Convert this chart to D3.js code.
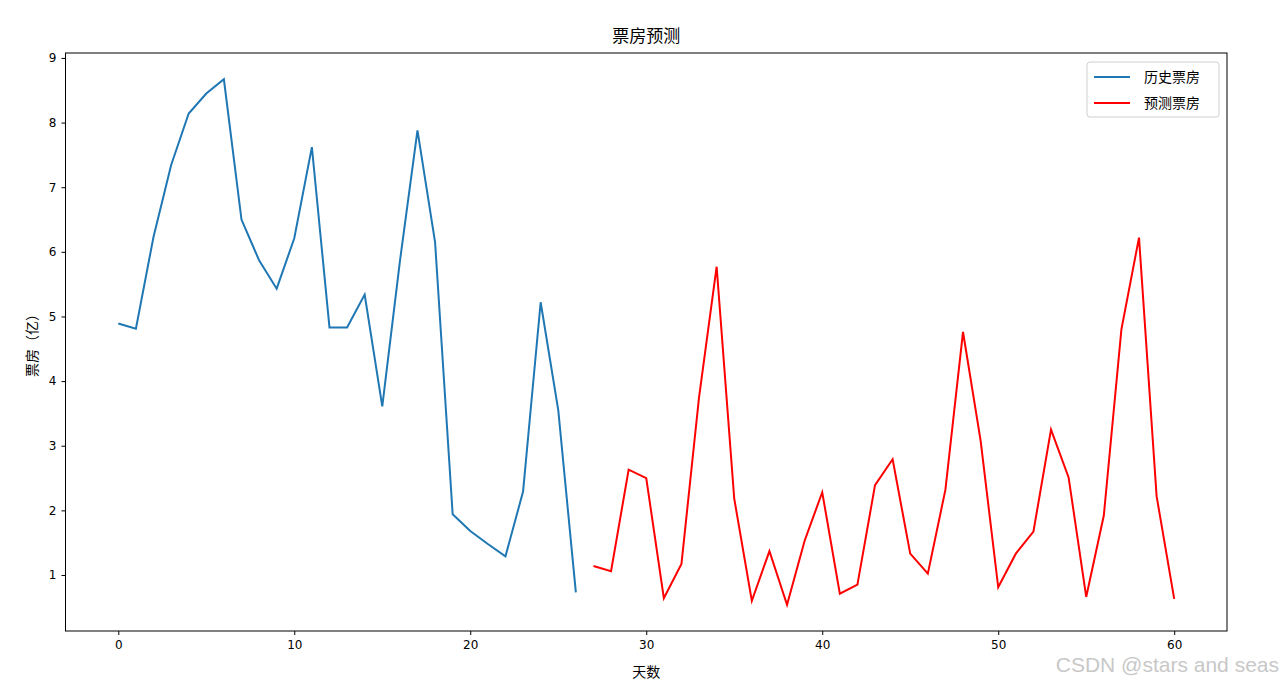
<!DOCTYPE html>
<html>
<head>
<meta charset="utf-8">
<script src="https://cdn.jsdelivr.net/npm/d3@7"></script>
<style>
	body { margin: 0; background: #fff; }
	svg { display: block; font-family: "Noto Sans CJK SC", "DejaVu Sans", sans-serif; }
</style>
</head>
<body>
<script>
// history box office (days 0..26) and forecast (days 27..60), in 亿
const histDays = d3.range(0, 27);
const histValues = [4.89, 4.81, 6.23, 7.34, 8.14, 8.45, 8.67, 6.50, 5.87, 5.43,
	6.21, 7.62, 4.83, 4.83, 5.34, 3.61, 5.85, 7.88, 6.15, 1.94,
	1.68, 1.48, 1.29, 2.29, 5.22, 3.55, 0.73];
const predDays = d3.range(27, 61);
const predValues = [1.14, 1.06, 2.63, 2.50, 0.64, 1.17, 3.75, 5.77, 2.18, 0.60,
	1.37, 0.54, 1.53, 2.28, 0.71, 0.85, 2.39, 2.79, 1.33, 1.02,
	2.32, 4.76, 3.08, 0.81, 1.33, 1.67, 3.25, 2.51, 0.66, 1.92,
	4.80, 6.22, 2.22, 0.63];
const xTicks = [0, 10, 20, 30, 40, 50, 60];
const yTicks = [1, 2, 3, 4, 5, 6, 7, 8, 9];
const seriesNames = ["历史票房", "预测票房"];

const W = 1282, H = 686;
const margin = { top: 53, right: 55, bottom: 55, left: 65.5 };
const width = W - margin.left - margin.right,
	height = H - margin.top - margin.bottom;

const svg = d3.select("body").append("svg")
	.attr("width", W)
	.attr("height", H);

// matplotlib style 5% padding on both axes
const allVals = histValues.concat(predValues);
const yMin = d3.min(allVals), yMax = d3.max(allVals);
const yPad = (yMax - yMin) * 0.05;

const x = d3.scaleLinear().domain([-3, 63]).range([0, width]);
const y = d3.scaleLinear().domain([yMin - yPad, yMax + yPad]).range([height, 0]);

const g = svg.append("g")
	.attr("transform", "translate(" + margin.left + "," + margin.top + ")");

// axes
const xAxis = g.append("g")
	.attr("transform", "translate(0," + height + ")")
	.call(d3.axisBottom(x).tickValues(xTicks).tickSize(4).tickPadding(5));
const yAxis = g.append("g")
	.call(d3.axisLeft(y).tickValues(yTicks).tickSize(4).tickPadding(5));
[xAxis, yAxis].forEach(a => {
	a.select(".domain").remove();
	a.selectAll("text").attr("font-size", 12).attr("fill", "#000")
		.attr("font-family", "'DejaVu Sans', sans-serif");
	a.selectAll("line").attr("stroke", "#000").attr("stroke-width", 1);
});

const line = d3.line()
	.x(d => x(d[0]))
	.y(d => y(d[1]));

g.append("path")
	.datum(histDays.map((d, i) => [d, histValues[i]]))
	.attr("fill", "none")
	.attr("stroke", "#1f77b4")
	.attr("stroke-width", 2)
	.attr("d", line);

g.append("path")
	.datum(predDays.map((d, i) => [d, predValues[i]]))
	.attr("fill", "none")
	.attr("stroke", "red")
	.attr("stroke-width", 2)
	.attr("d", line);

// frame
g.append("rect")
	.attr("width", width)
	.attr("height", height)
	.attr("fill", "none")
	.attr("stroke", "#000")
	.attr("stroke-width", 1);

// title and labels
svg.append("text")
	.attr("x", margin.left + width / 2)
	.attr("y", 42)
	.attr("text-anchor", "middle")
	.attr("font-size", 17)
	.text("票房预测");

svg.append("text")
	.attr("x", margin.left + width / 2)
	.attr("y", 677)
	.attr("text-anchor", "middle")
	.attr("font-size", 14)
	.text("天数");

svg.append("text")
	.attr("transform", "translate(37," + (margin.top + height / 2) + ") rotate(-90)")
	.attr("text-anchor", "middle")
	.attr("font-size", 14)
	.text("票房（亿）");

// legend
const colors = ["#1f77b4", "red"];
const legend = svg.append("g").attr("transform", "translate(1087,62)");
legend.append("rect")
	.attr("width", 132)
	.attr("height", 55)
	.attr("rx", 3)
	.attr("fill", "#fff")
	.attr("stroke", "#d0d0d0");
seriesNames.forEach((name, i) => {
	legend.append("line")
		.attr("x1", 7).attr("x2", 43)
		.attr("y1", 15 + i * 26).attr("y2", 15 + i * 26)
		.attr("stroke", colors[i])
		.attr("stroke-width", 2);
	legend.append("text")
		.attr("x", 57)
		.attr("y", 20 + i * 26)
		.attr("font-size", 14)
		.text(name);
});

// watermark
svg.append("text")
	.attr("x", 1279)
	.attr("y", 672)
	.attr("text-anchor", "end")
	.attr("font-size", 21)
	.attr("font-family", "'Liberation Sans', Arial, sans-serif")
	.attr("fill", "#c8c8c8")
	.text("CSDN @stars and seas");
</script>
</body>
</html>
